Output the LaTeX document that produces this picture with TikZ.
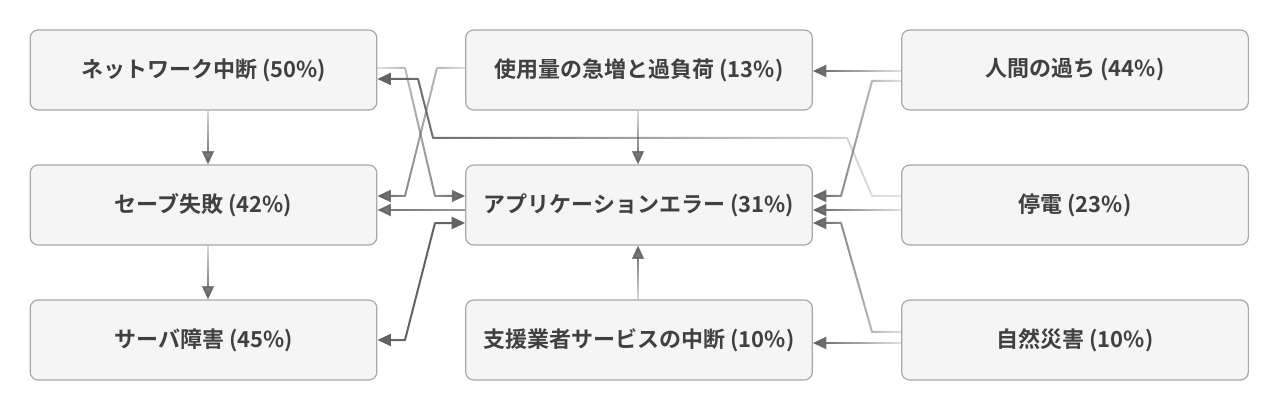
\documentclass[tikz,border=0pt]{standalone}
\usepackage{fontspec}
\setmainfont{Noto Sans CJK JP Bold}
\newfontfamily\cjkfont{Noto Sans CJK JP Bold}
\usetikzlibrary{arrows.meta,calc,fadings}
\definecolor{boxfill}{HTML}{F5F5F5}
\definecolor{boxline}{HTML}{A8A8A8}
\definecolor{txt}{HTML}{404040}
\definecolor{connc}{HTML}{636363}
\tikzfading[name=toW, left color=transparent!0, right color=transparent!82]
\tikzfading[name=toE, left color=transparent!82, right color=transparent!0]
\tikzfading[name=toS, top color=transparent!78, bottom color=transparent!0]
\tikzfading[name=toN, top color=transparent!0, bottom color=transparent!78]
\tikzfading[name=toWsoft, left color=transparent!10, right color=transparent!35]
\newcommand\lbl[2]{{\cjkfont #1 (#2\%)}}
\begin{document}
\begin{tikzpicture}[x=0.75pt,y=-0.75pt,
  box/.style={draw=boxline, line width=0.9pt, fill=boxfill, rounded corners=6pt,
    minimum width=260pt, minimum height=60pt, inner sep=0pt, text=txt,
    font=\fontsize{16.5}{20}\selectfont},
  conn/.style={draw=connc, line width=1.5pt, line join=round,
    -{Triangle[length=10pt,width=9pt]}},
  both/.style={conn, {Triangle[length=10pt,width=9pt]}-{Triangle[length=10pt,width=9pt]}}]
\fill[white] (0,0) rectangle (1280,410);
\useasboundingbox (0,0) rectangle (1280,410);
% nodes
\node[box] (net)    at (203.5,70)  {\lbl{ネットワーク中断}{50}};
\node[box] (save)   at (203.5,205) {\lbl{セーブ失敗}{42}};
\node[box] (server) at (203.5,340) {\lbl{サーバ障害}{45}};
\node[box] (usage)  at (639,70)    {\lbl{使用量の急増と過負荷}{13}};
\node[box] (app)    at (639,205)   {\lbl{アプリケーションエラー}{31}};
\node[box] (vendor) at (639,340)   {\lbl{支援業者サービスの中断}{10}};
\node[box] (human)  at (1075,70)   {\lbl{人間の過ち}{44}};
\node[box] (power)  at (1075,205)  {\lbl{停電}{23}};
\node[box] (nature) at (1075,340)  {\lbl{自然災害}{10}};
% connectors (leading move-tos only widen the fading box so arrow tips are not clipped)
\draw[conn, path fading=toS] ($(save.north)+(-4,0)$) ($(save.north)+(13,0)$)
  ($(net.south)+(4.5,0)$) -- ($(save.north)+(4.5,0)$);
\draw[conn, path fading=toS] ($(server.north)+(-4,0)$) ($(server.north)+(13,0)$)
  ($(save.south)+(4.5,0)$) -- ($(server.north)+(4.5,0)$);
\draw[conn, path fading=toE] ($(app.west)+(0,-18)$) ($(app.west)+(0,0)$)
  ($(net.east)+(0,-2)$) -- (405,68) -- (435,196) -- ($(app.west)+(0,-9)$);
\draw[conn, path fading=toW] ($(save.east)+(0,-18)$) ($(save.east)+(0,0)$)
  ($(usage.west)+(0,-2)$) -- (437,68) -- (405,196) -- ($(save.east)+(0,-9)$);
\draw[conn, path fading=toW] ($(net.east)+(0,0)$) ($(net.east)+(0,18)$)
  ($(power.west)+(0,-9)$) -- (872,196) -- (847,138) -- (433,138) -- (418,79) -- ($(net.east)+(0,9)$);
\draw[conn, path fading=toWsoft] ($(save.east)+(0,-4)$) ($(save.east)+(0,14)$)
  ($(app.west)+(0,5)$) -- ($(save.east)+(0,5)$);
\draw[both] ($(server.east)+(0,0)$) -- (405,340) -- (435,223) -- ($(app.west)+(0,18)$);
\draw[conn, path fading=toS] ($(app.north)+(-10,0)$) ($(app.north)+(8,0)$)
  ($(usage.south)+(-1,0)$) -- ($(app.north)+(-1,0)$);
\draw[conn, path fading=toN] ($(app.south)+(-10,0)$) ($(app.south)+(8,0)$)
  ($(vendor.north)+(-1,0)$) -- ($(app.south)+(-1,0)$);
\draw[conn, path fading=toW] ($(usage.east)+(0,-8)$) ($(usage.east)+(0,10)$)
  ($(human.west)+(0,1)$) -- ($(usage.east)+(0,1)$);
\draw[conn, path fading=toW] ($(app.east)+(0,-18)$) ($(app.east)+(0,0)$)
  ($(human.west)+(0,11)$) -- (872,81) -- (841,196) -- ($(app.east)+(0,-9)$);
\draw[conn, path fading=toW] ($(app.east)+(0,-4)$) ($(app.east)+(0,14)$)
  ($(power.west)+(0,5)$) -- ($(app.east)+(0,5)$);
\draw[conn, path fading=toW] ($(app.east)+(0,9)$) ($(app.east)+(0,27)$)
  ($(nature.west)+(0,-8)$) -- (872,332) -- (841,223) -- ($(app.east)+(0,18)$);
\draw[conn, path fading=toW] ($(vendor.east)+(0,-6)$) ($(vendor.east)+(0,12)$)
  ($(nature.west)+(0,3)$) -- ($(vendor.east)+(0,3)$);
\end{tikzpicture}
\end{document}
